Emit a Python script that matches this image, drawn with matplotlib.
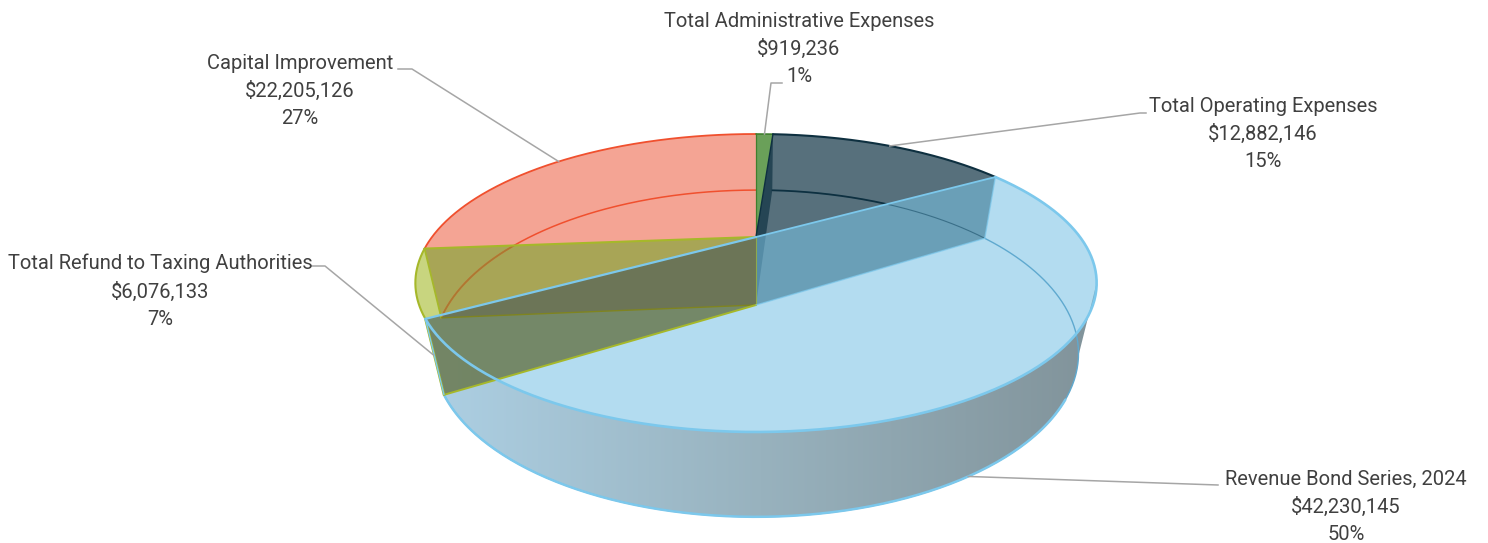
import numpy as np
import matplotlib
matplotlib.use("Agg")
import matplotlib.pyplot as plt
from matplotlib.colors import LinearSegmentedColormap
from matplotlib.patches import Polygon

# slices clockwise from 12 o'clock
names = ["Total Administrative Expenses", "Total Operating Expenses", "Revenue Bond Series, 2024",
         "Total Refund to Taxing Authorities", "Capital Improvement"]
values = [919236, 12882146, 42230145, 6076133, 22205126]
percents = [1, 15, 50, 7, 27]

# perspective of the two discs, in pixels: apex y, x scale, y scale, foreshortening
TOP = (237.0, 324.0, 134.8, 0.3087)
BOT = (305.0, 308.0, 149.0, 0.2966)
CX = 756.0

# where each label is centred, and the elbow of its leader line
label_xy = [(799, 49), (1263, 134), (1346, 507), (160, 291), (300, 91)]
elbows = [(771, 83), (1140, 113), (1218, 485), (325, 266), (412, 69)]
leader_ends = [(782, 83), (1146, 113), (1218, 485), (311, 266), (398, 69)]
leader_disc = [TOP, TOP, BOT, BOT, TOP]

EDGE = dict(admin="#3F7F2E", op="#0E3040", rev="#7CC8EC", ref="#A6B82A", cap="#F0502E")
FILL = dict(admin=(0.17, 0.47, 0.07, 0.7), op=(16 / 255, 51 / 255, 68 / 255, 0.7),
            rev=(0.478, 0.765, 0.898, 0.57), ref=(0.608, 0.706, 0.086, 0.55),
            cap=(0.925, 0.353, 0.235, 0.55))
# shaded radial walls of the refund slice, matched by eye
WALL_CAP = (86 / 255, 2 / 255, 38 / 255, 0.42)
WALL_REV = (101 / 255, 115 / 255, 70 / 255, 0.8)


def project(theta, disc):
    y0, a, b, k = disc
    w = 1 + k * np.cos(theta)
    return CX + a * np.sin(theta) / w, y0 - b * np.cos(theta) / w


def arc(t0, t1, disc):
    t = np.linspace(t0, t1, 200)
    x, y = project(t, disc)
    return np.column_stack([x, y])


def rim(t, disc):
    return np.array(project(t, disc))[None, :]


def apex(disc):
    return np.array([[CX, disc[0]]])


def top_face(t0, t1):
    return np.vstack([apex(TOP), arc(t0, t1, TOP)])


def radial_wall(t):
    return np.vstack([apex(TOP), rim(t, TOP), rim(t, BOT), apex(BOT)])


def fill(ax, pts, color):
    ax.add_patch(Polygon(pts, closed=True, facecolor=color, edgecolor="none"))


def line(ax, pts, color, lw=1.4, alpha=1.0, clip=None):
    ln, = ax.plot(pts[:, 0], pts[:, 1], color=color, lw=lw, alpha=alpha, solid_capstyle="round")
    if clip is not None:
        ln.set_clip_path(Polygon(clip, closed=True, transform=ax.transData))


frac = np.cumsum([0] + values) / sum(values)
angles = frac * 2 * np.pi
t_admin = angles[0], angles[1]
t_op = angles[1], angles[2]
t_rev = angles[2], angles[3]
t_ref = angles[3], angles[4]
t_cap = angles[4], angles[5]

fig = plt.figure(figsize=(14.88, 5.43), dpi=100)
ax = fig.add_axes([0, 0, 1, 1])

# outer wall of the big slice, lit from the left
t_side = np.pi - np.arcsin(np.sqrt(1 - TOP[3] ** 2))
wall_pts = np.vstack([arc(t_side, t_rev[1], TOP), arc(t_rev[1], t_side, BOT)])
wall_cmap = LinearSegmentedColormap.from_list("wall", ["#ADD0E4", "#98B2BE", "#81939A"])
img = ax.imshow(np.linspace(0, 1, 256)[None, :], cmap=wall_cmap, aspect="auto", interpolation="bilinear",
                extent=(wall_pts[:, 0].min(), wall_pts[:, 0].max(), wall_pts[:, 1].max(), wall_pts[:, 1].min()))
img.set_clip_path(Polygon(wall_pts, closed=True, transform=ax.transData))

# far slices
fill(ax, top_face(*t_cap), FILL["cap"])
line(ax, arc(*t_cap, BOT), EDGE["cap"], 1.1)
fill(ax, top_face(*t_admin), FILL["admin"])
fill(ax, top_face(*t_op), FILL["op"])
fill(ax, radial_wall(t_op[0]), FILL["op"])
fill(ax, radial_wall(t_op[1]), FILL["op"])
line(ax, arc(*t_op, BOT), "#3A6F88", 0.8)
line(ax, arc(*t_rev, BOT), "#5FA9CF", 1.0)

# big slice, see through
fill(ax, top_face(*t_rev), FILL["rev"])

# refund slice sits over it
fill(ax, radial_wall(t_ref[1]), WALL_CAP)
fill(ax, radial_wall(t_ref[0]), WALL_REV)
fill(ax, top_face(*t_ref), FILL["ref"])

# bits of back rim seen through the fills
line(ax, arc(*t_cap, BOT), "#A87D32", 1.1, clip=radial_wall(t_ref[1]))
line(ax, arc(*t_op, BOT), EDGE["op"], 1.3, clip=top_face(*t_op))
line(ax, arc(t_side + 0.25, t_rev[1], BOT), EDGE["rev"], 1.8)

# outlines
line(ax, arc(*t_cap, TOP), EDGE["cap"], 1.3)
line(ax, arc(*t_admin, TOP), EDGE["admin"], 1.2)
line(ax, arc(*t_op, TOP), EDGE["op"], 1.5)
line(ax, np.vstack([apex(TOP), rim(t_admin[0], TOP)]), EDGE["admin"], 0.9)
line(ax, np.vstack([apex(TOP), rim(t_op[0], TOP)]), EDGE["op"], 1.0)
line(ax, np.vstack([apex(TOP), rim(t_ref[1], TOP)]), EDGE["ref"], 1.5)
line(ax, np.vstack([rim(t_ref[1], TOP), rim(t_ref[1], BOT)]), EDGE["ref"], 1.3)
line(ax, arc(*t_ref, TOP), EDGE["ref"], 1.5)
line(ax, np.vstack([apex(BOT), rim(t_ref[1], BOT)]), "#7F8420", 1.0)
line(ax, np.vstack([rim(t_ref[0], TOP), rim(t_ref[0], BOT)]), EDGE["ref"], 1.8)
line(ax, np.vstack([apex(BOT), rim(t_ref[0], BOT)]), EDGE["ref"], 1.4)
line(ax, np.vstack([apex(TOP), apex(BOT)]), EDGE["ref"], 0.8, 0.7)
line(ax, arc(*t_rev, TOP), EDGE["rev"], 1.9)
line(ax, np.vstack([apex(TOP), rim(t_rev[1], TOP)]), EDGE["rev"], 1.6)
line(ax, np.vstack([apex(TOP), rim(t_rev[0], TOP)]), EDGE["rev"], 1.3)
line(ax, np.vstack([rim(t_rev[0], TOP), rim(t_rev[0], BOT)]), EDGE["rev"], 1.0, 0.7)
line(ax, np.vstack([apex(BOT), rim(t_rev[0], BOT)]), EDGE["rev"], 1.0, 0.7)
line(ax, np.vstack([rim(t_rev[1], TOP), rim(t_rev[1], BOT)]), EDGE["rev"], 1.0)

# leaders and labels
for i, name in enumerate(names):
    mid = (angles[i] + angles[i + 1]) / 2
    sx, sy = project(mid, leader_disc[i])
    ax.plot([sx, elbows[i][0], leader_ends[i][0]], [sy, elbows[i][1], leader_ends[i][1]],
            color="#A6A6A6", lw=1.1)
    ax.text(label_xy[i][0], label_xy[i][1], f"{name}\n${values[i]:,}\n{percents[i]}%",
            ha="center", va="center", fontsize=14.5, linespacing=1.53, color="#404040", family="Roboto")

ax.set_xlim(0, 1488)
ax.set_ylim(543, 0)
ax.axis("off")
fig.savefig("out.png", dpi=100)
